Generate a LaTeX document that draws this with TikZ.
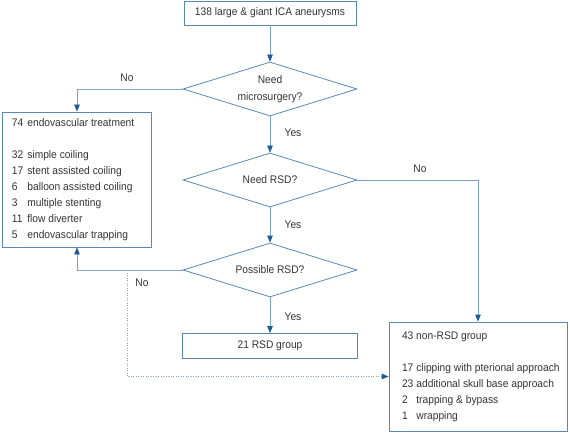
\documentclass[tikz,border=0pt]{standalone}
\usepackage{fontspec}
\setmainfont{Liberation Sans}[FakeStretch=0.93]
\usepackage{xcolor}
\usepackage{tikz}
\usetikzlibrary{shapes.geometric,arrows.meta}

\definecolor{edgeblue}{HTML}{7FA3C8}
\definecolor{boxblue}{HTML}{5A88B5}
\definecolor{tipblue}{HTML}{1D5A94}
\definecolor{txtgray}{HTML}{333333}

\begin{document}
\begin{tikzpicture}[x=1pt,y=-1pt, % work in pixels, y downwards
        font=\fontsize{11}{16}\selectfont, text=txtgray,
        box/.style={draw=boxblue, line width=0.8pt, inner sep=0pt},
        decision/.style={diamond, aspect=3.2, draw=boxblue, line width=0.8pt, inner sep=0pt,
            minimum width=174pt, minimum height=54pt, align=center,
            font=\fontsize{11}{17}\selectfont},
        flow/.style={draw=edgeblue, line width=0.8pt,
            -{Triangle[length=7pt,width=5.5pt,color=tipblue]}},
        lbl/.style={inner sep=0pt}]
        \def\cx{270} %x of the middle column
        \useasboundingbox (0,0) rectangle (570,433);

        \node[box, minimum width=172pt, minimum height=24pt] (start) at (\cx,13)
            {138 large \& giant ICA aneurysms};
        \node[decision] (micro) at (\cx,89) {Need\\microsurgery?};
        \node[decision] (needrsd) at (\cx,180) {Need RSD?};
        \node[decision] (possrsd) at (\cx,270) {Possible RSD?};
        \node[box, minimum width=175pt, minimum height=25pt] (rsd) at (\cx,346)
            {21 RSD group};

        \node[box, inner xsep=9.5pt, minimum height=135pt] (endo) at (77,179.5) %left box
        {\makebox[130pt][l]{\begin{tabular}{@{}l@{\hspace{4pt}}l@{}}
            74 & endovascular treatment\\[16pt]
            32 & simple coiling\\
            17 & stent assisted coiling\\
            6  & balloon assisted coiling\\
            3  & multiple stenting\\
            11 & flow diverter\\
            5  & endovascular trapping
        \end{tabular}}};

        \node[box, inner xsep=13pt, minimum height=109pt] (nonrsd) at (478,376.5) %right box
        {\makebox[152pt][l]{\begin{tabular}{@{}l@{\hspace{3pt}}l@{}}
            \multicolumn{2}{@{}l@{}}{43 non-RSD group}\\[16pt]
            17 & clipping with pterional approach\\
            23 & additional skull base approach\\
            2  & trapping \& bypass\\
            1  & wrapping
        \end{tabular}}};

        \coordinate (split) at (127,270); %start of the dotted path

        \draw[flow] (start.south) -- (micro.north);
        \draw[flow] (micro.west) -| (endo.north);
        \draw[flow] (micro.south) -- (needrsd.north);
        \draw[flow] (needrsd.east) -| (nonrsd.north);
        \draw[flow] (needrsd.south) -- (possrsd.north);
        \draw[flow] (possrsd.west) -| (endo.south);
        \draw[flow] (possrsd.south) -- (rsd.north);
        \draw[flow, dash pattern=on 1pt off 1.5pt] (split) |- (nonrsd.west);

        \node[lbl] (no1) at (127,78) {No};
        \node[lbl] (yes1) at (293,133) {Yes};
        \node[lbl] (no2) at (420,169) {No};
        \node[lbl] (yes2) at (293,225) {Yes};
        \node[lbl] (no3) at (142,283) {No};
        \node[lbl] (yes3) at (293,317) {Yes};
    \end{tikzpicture}
\end{document}
